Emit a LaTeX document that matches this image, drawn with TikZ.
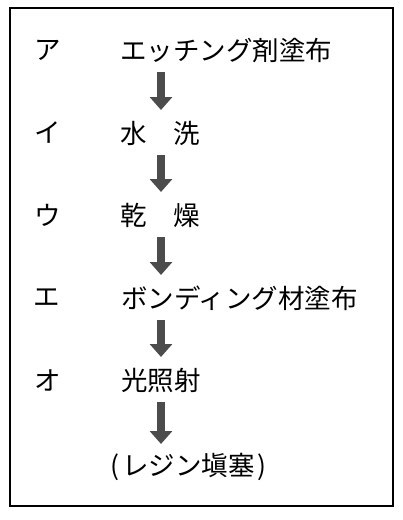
\documentclass[tikz,border=0pt]{standalone}
\usepackage{fontspec}
\newfontfamily\jp{Noto Sans CJK JP}
\usetikzlibrary{arrows.meta}

\begin{document}
\begin{tikzpicture}[x=1pt, y=-1pt,
    lbl/.style={font=\jp\fontsize{26.5}{30}\selectfont, inner sep=0pt},
    stepbox/.style={font=\jp\fontsize{26.5}{30}\selectfont, inner sep=0pt, anchor=west},
    flow/.style={line width=8pt, draw=black!70, -{Triangle[width=22pt, length=13pt]}, shorten <=22pt, shorten >=23pt}]
    \useasboundingbox (0,0) rectangle (403,520);
    % Frame
    \draw[line width=1.4pt] (10,8) rectangle (393,506);
    % Column of the arrows
    \coordinate (ax) at (161,0);

    % Labels and steps
    \node[lbl] (la) at (48,50) {ア};  \node[stepbox] (s1) at (120,50) {エッチング剤塗布};
    \node[lbl] (li) at (48,133) {イ}; \node[stepbox] (s2) at (120,133) {水　洗};
    \node[lbl] (lu) at (48,215) {ウ}; \node[stepbox] (s3) at (120,215) {乾　燥};
    \node[lbl] (le) at (47,298) {エ}; \node[stepbox] (s4) at (121,298) {ボンディング材塗布};
    \node[lbl] (lo) at (48,380) {オ}; \node[stepbox] (s5) at (121,380) {光照射};
    \node[stepbox] (s6) at (110,467) {(\kern3pt レジン塡塞\kern3pt)};

    % Arrows between the steps
    \draw[flow] (s1 -| ax) -- (s2 -| ax);
    \draw[flow] (s2 -| ax) -- (s3 -| ax);
    \draw[flow] (s3 -| ax) -- (s4 -| ax);
    \draw[flow] (s4 -| ax) -- (s5 -| ax);
    \draw[flow] (s5 -| ax) -- (s6 -| ax);
\end{tikzpicture}
\end{document}
